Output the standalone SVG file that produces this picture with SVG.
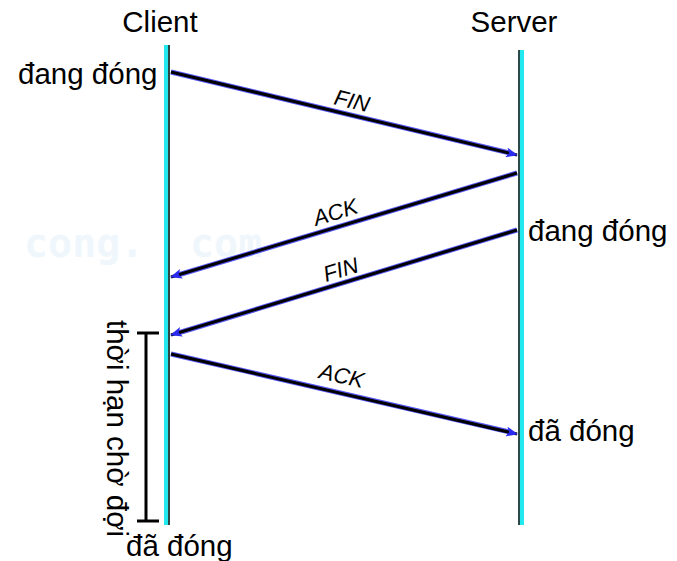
<svg xmlns="http://www.w3.org/2000/svg" width="677" height="561" viewBox="0 0 677 561">
<style>
text{font-family:"Liberation Sans",Arial,sans-serif;fill:#000}
.t{font-size:29.5px}
.lbl{font-size:22px;font-style:italic}
.wm{font-family:"DejaVu Sans Mono",monospace;font-size:40px;fill:#f0f7fc;font-weight:bold}
.msg{stroke:#000;stroke-width:3;fill:none}
.glow{stroke:#2a2af0;stroke-width:5;fill:none}
</style>
<defs>
<marker id="ah" markerWidth="12" markerHeight="10" refX="11" refY="5" orient="auto" markerUnits="userSpaceOnUse">
<path d="M0,0 L12,5 L0,10 L3,5 Z" fill="#2a2af0"/>
</marker>
</defs>
<rect width="677" height="561" fill="#fff"/>
<text class="wm" x="24" y="257">cong.</text>
<text class="wm" x="190" y="257">com</text>
<g id="client">
<text class="t" x="160" y="32" text-anchor="middle">Client</text>
<rect x="164" y="45" width="4" height="480" fill="#22e8f0"/>
<rect x="168" y="45" width="2" height="480" fill="#2a4a4a"/>
</g>
<g id="server">
<text class="t" x="514" y="32" text-anchor="middle">Server</text>
<rect x="518" y="50" width="2" height="475" fill="#2a4a4a"/>
<rect x="520" y="50" width="4" height="475" fill="#22e8f0"/>
</g>
<g id="states">
<text class="t" x="18" y="84">đang đóng</text>
<text class="t" x="528" y="241">đang đóng</text>
<text class="t" x="528" y="441">đã đóng</text>
<text class="t" x="126" y="556">đã đóng</text>
</g>
<g id="timer">
<line x1="146" y1="333" x2="146" y2="521" stroke="#000" stroke-width="3"/>
<line x1="137" y1="333" x2="159" y2="333" stroke="#000" stroke-width="3"/>
<line x1="137" y1="521" x2="159" y2="521" stroke="#000" stroke-width="3"/>
<text class="t" transform="translate(107,320) rotate(90)">thời hạn chờ đợi</text>
</g>
<g id="connectors">
<line class="glow" x1="171" y1="72" x2="510" y2="153" opacity="0.8"/>
<line class="msg" x1="171" y1="72" x2="517" y2="155" marker-end="url(#ah)"/>
<text class="lbl" transform="translate(333,104) rotate(13.5)">FIN</text>
<line class="glow" x1="517" y1="173" x2="178" y2="275" opacity="0.8"/>
<line class="msg" x1="517" y1="173" x2="171" y2="277" marker-end="url(#ah)"/>
<text class="lbl" transform="translate(316,226) rotate(-17)">ACK</text>
<line class="glow" x1="517" y1="230" x2="178" y2="333" opacity="0.8"/>
<line class="msg" x1="517" y1="230" x2="171" y2="335" marker-end="url(#ah)"/>
<text class="lbl" transform="translate(326,282) rotate(-17)">FIN</text>
<line class="glow" x1="171" y1="354" x2="510" y2="432" opacity="0.8"/>
<line class="msg" x1="171" y1="354" x2="517" y2="434" marker-end="url(#ah)"/>
<text class="lbl" transform="translate(318,378) rotate(13)">ACK</text>
</g>
</svg>
